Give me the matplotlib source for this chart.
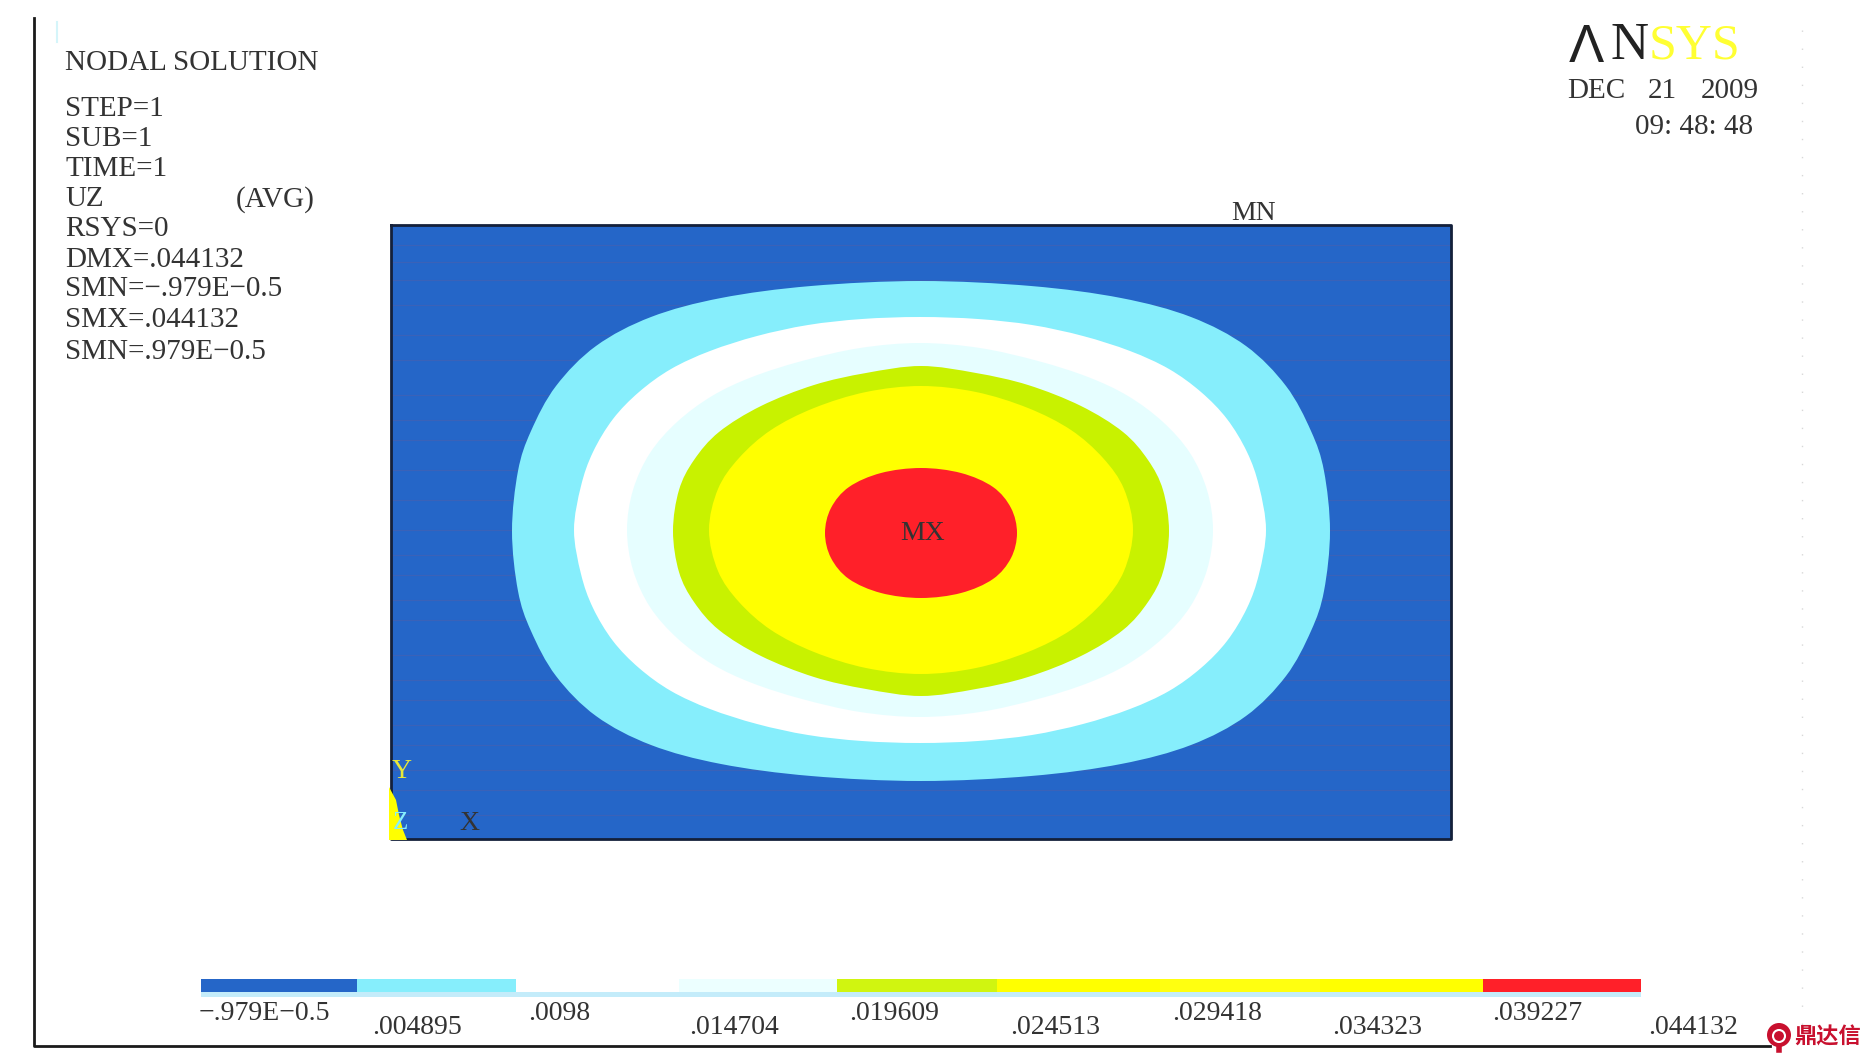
import matplotlib
matplotlib.use('Agg')
import matplotlib.pyplot as plt
from matplotlib.patches import Circle, PathPatch
from matplotlib.path import Path

# band outlines: one quarter, as pixel offsets from the band centre
cyan_quarter = [(409,0),(403,60),(390,100),(365,145),(325,185),(270,214),(200,233),(110,245),(0,250)]
white_quarter = [(346,0),(339,44),(327,78),(307,111),(281,138),(249,161),(210,179),(163,194),(112,205),(58,211),(0,213)]
pale_quarter = [(293,0),(287,40),(270,77),(243,108),(208,134),(168,153),(118,169),(60,182),(0,187)]
green_quarter = [(248,0),(242,41),(227,71),(202,99),(160,125),(107,146),(55,158),(0,165)]
yellow_quarter = [(212,0),(203,41),(182,72),(150,100),(107,122),(55,138),(0,144)]
red_quarter = [(96,0),(90,25),(72,46),(40,60),(0,65)]
band_centres = [(921,531), (920,530), (920,530), (921,531), (921,530), (921,533)]
triad_wedge = [(389,787),(396,800),(399,815),(403,830),(407,840),(389,840)]

level_labels = ['\u2212.979E\u22120.5', '.004895', '.0098', '.014704', '.019609', '.024513', '.029418', '.034323', '.039227', '.044132']
level_colors = ['#2566c8', '#86eefc', '#ffffff', '#ecffff', '#d0f510', '#ffff00', '#ffff10', '#ffff00', '#ff2029']
bar_edges = [201, 357, 516, 679, 837, 997, 1160, 1320, 1483, 1641]
label_left = [199, 372, 528, 689, 849, 1010, 1172, 1332, 1492, 1648]
label_y = [1014, 1027, 1014, 1027, 1014, 1027, 1014, 1027, 1014, 1027]

info_lines = ['NODAL SOLUTION', 'STEP=1', 'SUB=1', 'TIME=1', 'UZ', 'RSYS=0', 'DMX=.044132', 'SMN=\u2212.979E\u22120.5', 'SMX=.044132', 'SMN=.979E\u22120.5']
info_y = [63, 109, 139, 169, 199, 229, 260, 289, 320, 352]
stripe_y = [245, 262, 280, 305, 335, 360, 395, 420, 440, 470, 500, 530, 555, 575, 600, 620, 655, 680, 700, 725, 745, 770, 790, 815]

W, H = 1868, 1059
plt.rcParams['font.family'] = ['Liberation Serif', 'DejaVu Sans']
text_color = '#333333'


def full_outline(quarter, centre):
    # the bands are close to symmetric, so mirror the quarter round the centre
    cx, cy = centre
    q = quarter
    pts = [(cx + x, cy - y) for x, y in q]
    pts += [(cx - x, cy - y) for x, y in reversed(q[:-1])]
    pts += [(cx - x, cy + y) for x, y in q[1:]]
    pts += [(cx + x, cy + y) for x, y in reversed(q[1:-1])]
    return pts


def smooth_patch(outline, col, z):
    # closed Catmull-Rom through the read points, written as bezier segments
    n = len(outline)
    verts = [outline[0]]
    codes = [Path.MOVETO]
    for i in range(n):
        p0, p1, p2, p3 = outline[i - 1], outline[i], outline[(i + 1) % n], outline[(i + 2) % n]
        verts.append((p1[0] + (p2[0] - p0[0]) / 6, p1[1] + (p2[1] - p0[1]) / 6))
        verts.append((p2[0] - (p3[0] - p1[0]) / 6, p2[1] - (p3[1] - p1[1]) / 6))
        verts.append(p2)
        codes += [Path.CURVE4] * 3
    return PathPatch(Path(verts, codes), facecolor=col, edgecolor='none', lw=0, zorder=z)


fig = plt.figure(figsize=(W / 100, H / 100), dpi=100)
ax = fig.add_axes([0, 0, 1, 1])
ax.set_xlim(0, W)
ax.set_ylim(H, 0)
ax.set_axis_off()

# frame lines and the faint marks of the scan
ax.plot([34, 34, 1770], [18, 1046, 1046], color='#1a1a1a', lw=2)
ax.plot([57, 57], [22, 42], color='#d5f5fa', lw=1.5)
ax.plot([1802, 1802], [30, 1040], color='#d8d8d8', lw=1, ls=(0, (1, 12)))

# contour plot
ax.fill([391, 1451, 1451, 391], [225, 225, 839, 839], color='#2566c8', lw=0, zorder=1)
ax.hlines(stripe_y, 391, 1451, color='#3a62b8', lw=0.8, zorder=1.5)
z = 2
bands = [(cyan_quarter, '#86eefc'), (white_quarter, '#ffffff'), (pale_quarter, '#e6feff'),
         (green_quarter, '#c8f200'), (yellow_quarter, '#ffff00'), (red_quarter, '#ff2029')]
for (quarter, col), centre in zip(bands, band_centres):
    ax.add_patch(smooth_patch(full_outline(quarter, centre), col, z))
    z += 0.1
ax.plot([391, 1451, 1451, 391, 391], [225, 225, 839, 839, 225], color='#14203a', lw=2, zorder=3)
ax.fill([p[0] for p in triad_wedge], [p[1] for p in triad_wedge], color='#ffff00', lw=0, zorder=3.5)

ax.text(1254, 213, 'MN', fontsize=20, color=text_color, ha='center', va='center', zorder=4)
ax.text(923, 534, 'MX', fontsize=20, color=text_color, ha='center', va='center', zorder=4)
ax.text(402, 772, 'Y', fontsize=20, color='#e8e838', ha='center', va='center', zorder=4)
ax.text(400, 823, 'Z', fontsize=18, color='#86eefc', ha='center', va='center', zorder=4)
ax.text(469, 823, 'X', fontsize=20, color=text_color, ha='center', va='center', zorder=4)

# text block on the left
for line, y in zip(info_lines, info_y):
    ax.text(65, y, line, fontsize=21, color=text_color, ha='left', va='center')
ax.text(236, 200, '(AVG)', fontsize=21, color=text_color, ha='left', va='center')

# logo and date
ax.text(1569, 48, '\u039b', fontsize=38, color='#222222', ha='left', va='center', family=['Liberation Sans'])
ax.text(1610, 46, 'N', fontsize=38, color='#222222', ha='left', va='center')
ax.text(1649, 46, 'SYS', fontsize=36, color='#ffff33', ha='left', va='center')
ax.text(1567, 91, 'DEC', fontsize=21, color=text_color, ha='left', va='center')
ax.text(1648, 91, '21', fontsize=21, color=text_color, ha='left', va='center')
ax.text(1701, 91, '2009', fontsize=21, color=text_color, ha='left', va='center')
ax.text(1635, 127, '09: 48: 48', fontsize=21, color=text_color, ha='left', va='center')

# legend bar
for i, col in enumerate(level_colors):
    ax.fill([bar_edges[i], bar_edges[i + 1], bar_edges[i + 1], bar_edges[i]], [979, 979, 992, 992], color=col, lw=0)
ax.fill([bar_edges[0], bar_edges[-1], bar_edges[-1], bar_edges[0]], [992, 992, 997, 997], color='#c4ecfa', lw=0)

for name, x, y in zip(level_labels, label_left, label_y):
    ax.text(x, y, name, fontsize=20, color=text_color, ha='left', va='center')

# watermark
ax.add_patch(Circle((1779, 1035), 12, color='#c8102e', lw=0, zorder=5))
ax.add_patch(Circle((1779, 1036), 6, facecolor='none', edgecolor='white', lw=1.5, zorder=6))
ax.plot([1779, 1779], [1045, 1050], color='#c8102e', lw=4, zorder=5)
ax.text(1794, 1037, '\u9f0e\u8fbe\u4fe1', fontsize=16, color='#c8102e', ha='left', va='center',
        family=['Noto Sans CJK SC'], fontweight='bold', zorder=6)

fig.savefig('out.png', dpi=100)
